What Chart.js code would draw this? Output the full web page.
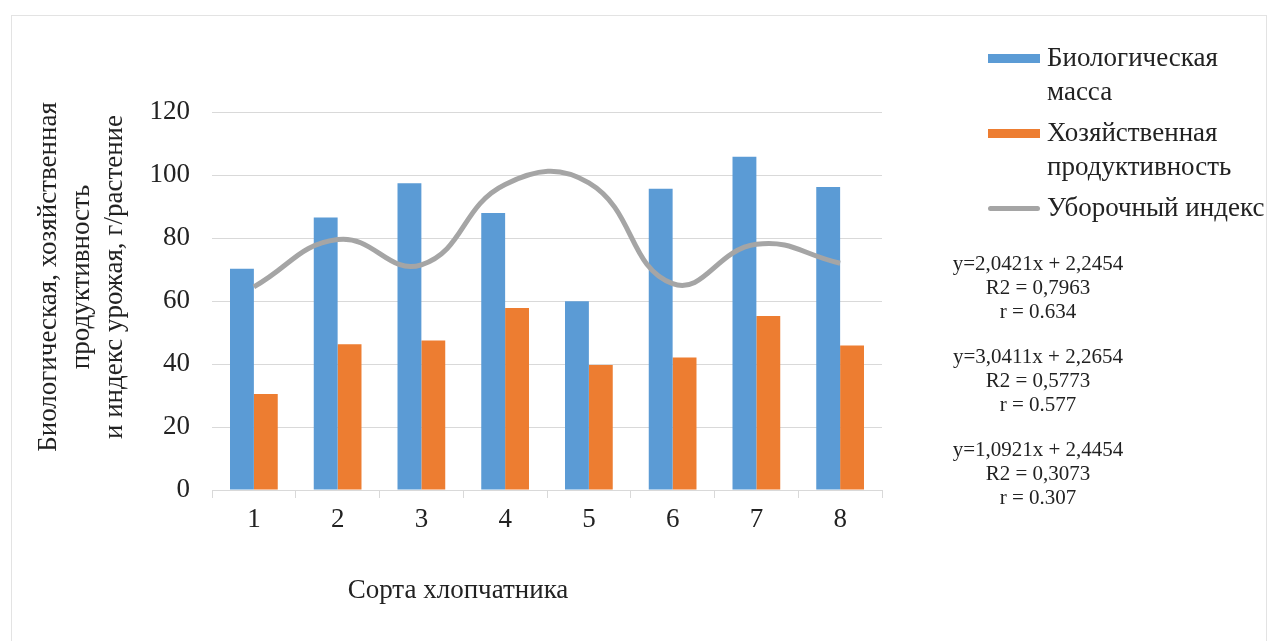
<!DOCTYPE html>
<html>
<head>
<meta charset="utf-8">
<script src="https://cdn.jsdelivr.net/npm/chart.js@4.4.1/dist/chart.umd.min.js"></script>
<style>
  html, body { margin: 0; padding: 0; background: #fff; }
  #wrap { position: relative; width: 1271px; height: 641px; overflow: hidden; font-family: "Liberation Serif", "Times New Roman", serif; color: #222; }
  #frame { position: absolute; left: 11px; top: 15px; width: 1254px; height: 640px; border: 1px solid #e3e3e3; }
  #legend { position: absolute; left: 988px; top: 40px; font-family: "Liberation Serif", serif; font-size: 27px; line-height: 34px; }
  .item { position: relative; padding-left: 59px; margin-bottom: 7px; white-space: nowrap; }
  .swatch { position: absolute; left: 0; top: 14px; width: 52px; height: 9px; }
  .swatch.line { top: 16px; height: 5px; border-radius: 3px; }
  #stats { position: absolute; left: 938px; top: 251px; width: 200px; text-align: center; font-family: "Liberation Serif", serif; font-size: 21px; line-height: 24px; }
  #stats div.block { margin-bottom: 21px; }
</style>
</head>
<body>
<div id="wrap">
  <div id="frame"></div>
  <canvas id="chart" width="1271" height="641"></canvas>
  <div id="legend"></div>
  <div id="stats"></div>
</div>
<script>
// данные
const varieties = ['1', '2', '3', '4', '5', '6', '7', '8'];
const bioMass = [70.2, 86.5, 97.4, 87.9, 59.9, 95.6, 105.8, 96.2];
const econProd = [30.5, 46.3, 47.5, 57.8, 39.7, 42.1, 55.2, 45.9];
const harvestIndex = [64.5, 79.5, 71.5, 97.0, 97.5, 65.5, 78.0, 72.0];
const seriesNames = ['Биологическая масса', 'Хозяйственная продуктивность', 'Уборочный индекс'];
const legendLines = [['Биологическая', 'масса'], ['Хозяйственная', 'продуктивность'], ['Уборочный индекс']];
const yTicks = [0, 20, 40, 60, 80, 100, 120];
const yTitle = ['Биологическая, хозяйственная', 'продуктивность', 'и индекс урожая, г/растение'];
const xTitle = 'Сорта хлопчатника';
const regressions = [
    ['y=2,0421x + 2,2454', 'R2 = 0,7963', 'r = 0.634'],
    ['y=3,0411x + 2,2654', 'R2 = 0,5773', 'r = 0.577'],
    ['y=1,0921x + 2,4454', 'R2 = 0,3073', 'r = 0.307'],
];

const colors = ['#5b9bd5', '#ed7d31', '#a5a5a5'];
const FONT = '"Liberation Serif", "Times New Roman", serif';

// подписи осей рисуем сами
const axisTitles = {
    id: 'axisTitles',
    afterDraw(chart) {
        const c = chart.ctx;
        c.save();
        c.fillStyle = '#222';
        c.font = '27px ' + FONT;
        c.textAlign = 'center';
        c.textBaseline = 'middle';
        const cy = 277;
        [49, 82, 115].forEach((x, i) => {
            c.save();
            c.translate(x, cy);
            c.rotate(-Math.PI / 2);
            c.fillText(yTitle[i], 0, 0);
            c.restore();
        });
        c.fillText(xTitle, 458, 591);
        c.restore();
    }
};

new Chart(document.getElementById('chart').getContext('2d'), {
    type: 'bar',
    data: {
        labels: varieties,
        datasets: [
            { type: 'line', label: seriesNames[2], data: harvestIndex, borderColor: colors[2], borderWidth: 5,
              pointRadius: 0, tension: 0.45, fill: false, order: 0 },
            { label: seriesNames[0], data: bioMass, backgroundColor: colors[0], order: 1,
              barPercentage: 1, categoryPercentage: 0.57 },
            { label: seriesNames[1], data: econProd, backgroundColor: colors[1], order: 1,
              barPercentage: 1, categoryPercentage: 0.57 },
        ]
    },
    options: {
        responsive: false,
        animation: false,
        layout: { padding: { top: 112, right: 389, left: 0, bottom: 0 } },
        plugins: { legend: { display: false }, tooltip: { enabled: false } },
        scales: {
            x: {
                grid: { offset: true, drawOnChartArea: false, tickLength: 8, color: '#d9d9d9' },
                border: { color: '#d9d9d9', width: 1 },
                ticks: { color: '#222', font: { family: FONT, size: 27 }, padding: 6 },
                afterFit: s => { s.height = 151; }
            },
            y: {
                min: 0, max: 120,
                afterBuildTicks: s => { s.ticks = yTicks.map(v => ({ value: v })); },
                grid: { color: '#d9d9d9', drawTicks: false },
                border: { display: false },
                ticks: { color: '#222', font: { family: FONT, size: 27 }, padding: 22 },
                afterFit: s => { s.width = 212; }
            }
        }
    },
    plugins: [axisTitles]
});

// легенда
const legendOrder = [0, 1, 2];
document.getElementById('legend').innerHTML = legendOrder.map(i =>
    '<div class="item"><span class="swatch' + (i === 2 ? ' line' : '') + '" style="background:' + colors[i] + '"></span>' +
    legendLines[i].join('<br>') + '</div>').join('');

document.getElementById('stats').innerHTML = regressions.map(b =>
    '<div class="block">' + b.map(t => '<div>' + t + '</div>').join('') + '</div>').join('');
</script>
</body>
</html>
